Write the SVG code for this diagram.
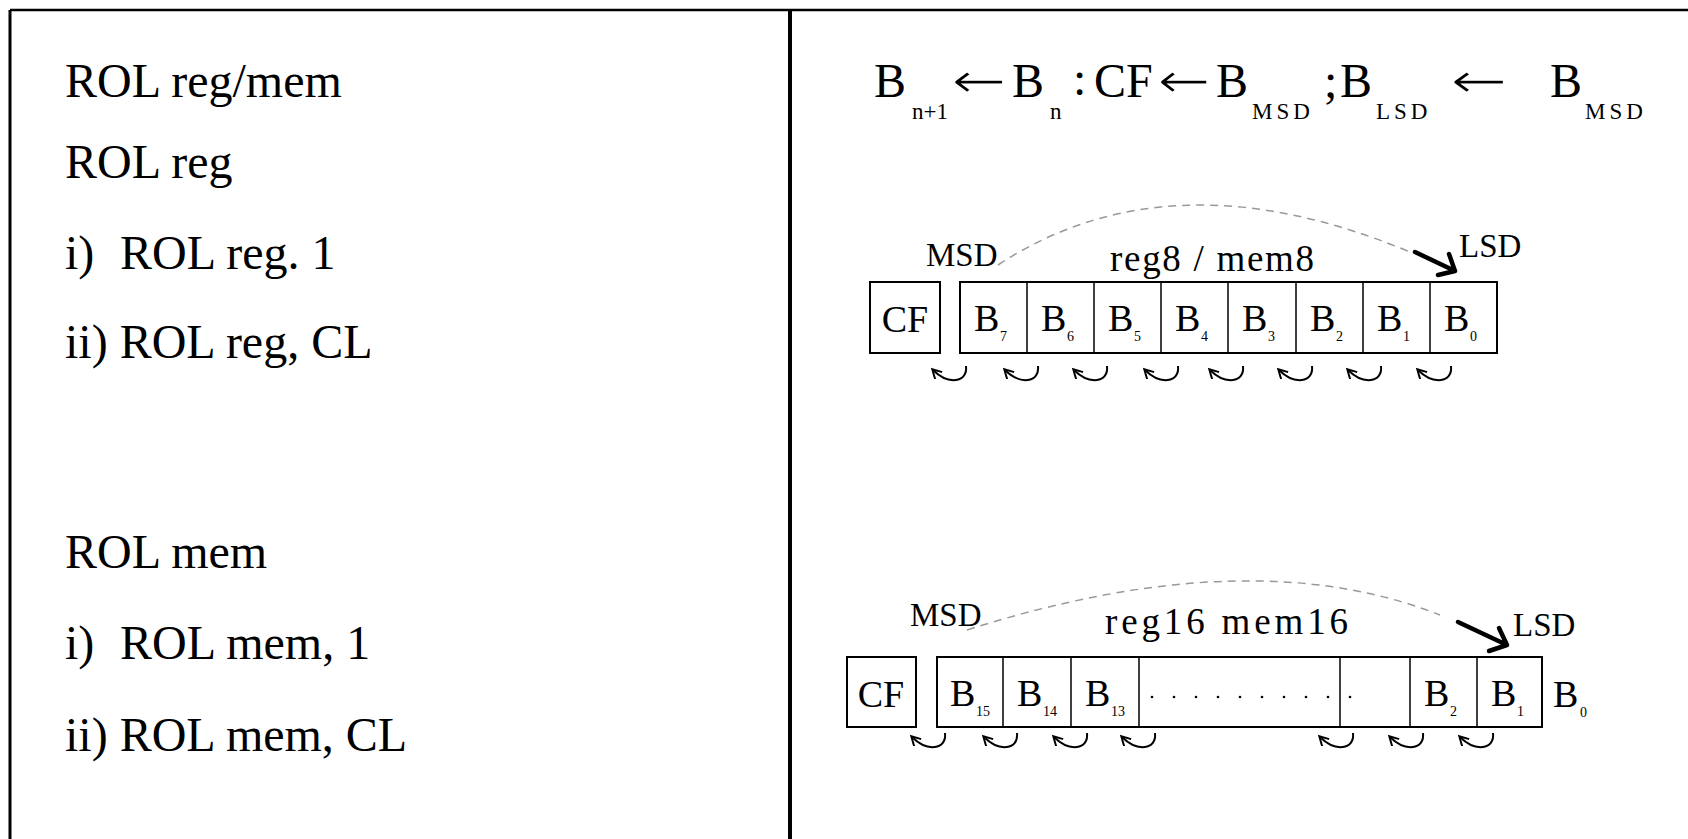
<svg xmlns="http://www.w3.org/2000/svg" width="1688" height="839" viewBox="0 0 1688 839">
<style>
.t{font-family:"Liberation Serif","DejaVu Serif",serif;fill:#000}
.big{font-size:48px}
.arr{font-family:"DejaVu Sans","Liberation Sans",sans-serif;font-size:50px;fill:#000;stroke:#fff;stroke-width:1.6}
.sub{font-size:23px}
.lbl{font-size:33px}
.lbl2{font-size:37px}
.cell{font-size:38px}
.cs{font-size:14px}
.box{fill:#fff;stroke:#000;stroke-width:2}
.frame{stroke:#000;fill:none}
.arc{fill:none;stroke:#999;stroke-width:1.5;stroke-dasharray:8 6}
.thick{fill:none;stroke:#000;stroke-width:4.5;stroke-linecap:round;stroke-linejoin:round}
.curl{fill:none;stroke:#000;stroke-width:2;marker-end:url(#ah)}
.dot{fill:#000}
</style>
<defs>
<marker id="ah" markerWidth="12" markerHeight="12" refX="8" refY="5" orient="auto" markerUnits="userSpaceOnUse">
<path d="M0,0 L9,5 L0,10" fill="none" stroke="#000" stroke-width="2"/>
</marker>
</defs>
<rect width="1688" height="839" fill="#fff"/>
<g id="frame">
<line class="frame" x1="10" y1="10" x2="1688" y2="10" stroke-width="2.5"/>
<line class="frame" x1="10" y1="10" x2="10" y2="839" stroke-width="3"/>
<line class="frame" x1="790" y1="10" x2="790" y2="839" stroke-width="4"/>
</g>
<g id="left-text" class="t big">
<text x="65" y="97">ROL reg/mem</text>
<text x="65" y="178">ROL reg</text>
<text x="65" y="269">i)<tspan x="120">ROL reg. 1</tspan></text>
<text x="65" y="358">ii) ROL reg, CL</text>
<text x="65" y="568">ROL mem</text>
<text x="65" y="659">i)<tspan x="120">ROL mem, 1</tspan></text>
<text x="65" y="751">ii) ROL mem, CL</text>
</g>
<g id="formula">
<text class="t"><tspan class="big" x="874" y="97">B</tspan><tspan class="sub" x="912" y="119">n+1</tspan><tspan class="arr" x="951" y="98" textLength="56" lengthAdjust="spacingAndGlyphs">←</tspan><tspan class="big" x="1012" y="97">B</tspan><tspan class="sub" x="1050" y="119">n</tspan><tspan class="big" x="1073" y="95">:</tspan><tspan class="big" x="1094" y="97">CF</tspan><tspan class="arr" x="1157" y="98" textLength="54" lengthAdjust="spacingAndGlyphs">←</tspan><tspan class="big" x="1216" y="97">B</tspan><tspan class="sub" x="1252" y="119" letter-spacing="4">MSD</tspan><tspan class="big" x="1324" y="97">;</tspan><tspan class="big" x="1340" y="97">B</tspan><tspan class="sub" x="1376" y="119" letter-spacing="4">LSD</tspan><tspan class="arr" x="1450" y="98" textLength="58" lengthAdjust="spacingAndGlyphs">←</tspan><tspan class="big" x="1550" y="97">B</tspan><tspan class="sub" x="1585" y="119" letter-spacing="4">MSD</tspan></text>
</g>
<g id="connectors">
<path class="arc" d="M998,265 Q1170,152 1410,252"/>
<path class="thick" d="M1415,252 L1455,271 M1438,275 L1455,271 L1449,254"/>
<path class="arc" d="M967,630 Q1250,540 1440,615"/>
<path class="thick" d="M1458,622 L1507,645 M1489,651 L1507,645 L1499,628"/>
<g id="curls-top">
<path class="curl" d="M966,366 C968,383 948,385 933,370"/>
<path class="curl" d="M1038,366 C1040,383 1020,385 1005,370"/>
<path class="curl" d="M1107,366 C1109,383 1089,385 1074,370"/>
<path class="curl" d="M1178,366 C1180,383 1160,385 1145,370"/>
<path class="curl" d="M1243,366 C1245,383 1225,385 1210,370"/>
<path class="curl" d="M1312,366 C1314,383 1294,385 1279,370"/>
<path class="curl" d="M1381,366 C1383,383 1363,385 1348,370"/>
<path class="curl" d="M1451,366 C1453,383 1433,385 1418,370"/>
</g>
<g id="curls-bottom">
<path class="curl" d="M945,733 C947,750 927,752 912,737"/>
<path class="curl" d="M1017,733 C1019,750 999,752 984,737"/>
<path class="curl" d="M1087,733 C1089,750 1069,752 1054,737"/>
<path class="curl" d="M1155,733 C1157,750 1137,752 1122,737"/>
<path class="curl" d="M1353,733 C1355,750 1335,752 1320,737"/>
<path class="curl" d="M1423,733 C1425,750 1405,752 1390,737"/>
<path class="curl" d="M1493,733 C1495,750 1475,752 1460,737"/>
</g>
</g>
<g id="top-labels" class="t">
<text class="lbl" x="926" y="266">MSD</text>
<text class="lbl2" x="1110" y="271" textLength="204" lengthAdjust="spacing">reg8 / mem8</text>
<text class="lbl" x="1459" y="257">LSD</text>
</g>
<g id="cf-top">
<rect class="box" x="870" y="282" width="70" height="71"/>
<text class="t cell" x="905" y="332" text-anchor="middle">CF</text>
</g>
<g id="reg8">
<rect class="box" x="960" y="282" width="537" height="71"/>
<g stroke="#000" stroke-width="1.5">
<line x1="1027" y1="282" x2="1027" y2="353"/>
<line x1="1094" y1="282" x2="1094" y2="353"/>
<line x1="1161" y1="282" x2="1161" y2="353"/>
<line x1="1228" y1="282" x2="1228" y2="353"/>
<line x1="1296" y1="282" x2="1296" y2="353"/>
<line x1="1363" y1="282" x2="1363" y2="353"/>
<line x1="1430" y1="282" x2="1430" y2="353"/>
</g>
<g class="t">
<text class="cell" x="974" y="331">B</text><text class="cs" x="1000" y="341">7</text>
<text class="cell" x="1041" y="331">B</text><text class="cs" x="1067" y="341">6</text>
<text class="cell" x="1108" y="331">B</text><text class="cs" x="1134" y="341">5</text>
<text class="cell" x="1175" y="331">B</text><text class="cs" x="1201" y="341">4</text>
<text class="cell" x="1242" y="331">B</text><text class="cs" x="1268" y="341">3</text>
<text class="cell" x="1310" y="331">B</text><text class="cs" x="1336" y="341">2</text>
<text class="cell" x="1377" y="331">B</text><text class="cs" x="1403" y="341">1</text>
<text class="cell" x="1444" y="331">B</text><text class="cs" x="1470" y="341">0</text>
</g>
</g>
<g id="bottom-labels" class="t">
<text class="lbl" x="910" y="626">MSD</text>
<text class="lbl2" x="1105" y="634" textLength="243" lengthAdjust="spacing">reg16 mem16</text>
<text class="lbl" x="1513" y="636">LSD</text>
</g>
<g id="cf-bottom">
<rect class="box" x="847" y="657" width="69" height="70"/>
<text class="t cell" x="881" y="707" text-anchor="middle">CF</text>
</g>
<g id="reg16">
<rect class="box" x="937" y="657" width="605" height="70"/>
<g stroke="#000" stroke-width="1.5">
<line x1="1003" y1="657" x2="1003" y2="727"/>
<line x1="1071" y1="657" x2="1071" y2="727"/>
<line x1="1139" y1="657" x2="1139" y2="727"/>
<line x1="1340" y1="657" x2="1340" y2="727"/>
<line x1="1410" y1="657" x2="1410" y2="727"/>
<line x1="1477" y1="657" x2="1477" y2="727"/>
</g>
<g class="t">
<text class="cell" x="950" y="706">B</text><text class="cs" x="976" y="716">15</text>
<text class="cell" x="1017" y="706">B</text><text class="cs" x="1043" y="716">14</text>
<text class="cell" x="1085" y="706">B</text><text class="cs" x="1111" y="716">13</text>
<text class="cell" x="1424" y="706">B</text><text class="cs" x="1450" y="716">2</text>
<text class="cell" x="1491" y="706">B</text><text class="cs" x="1517" y="716">1</text>
</g>
<g class="dot">
<circle cx="1152" cy="697" r="1.3"/><circle cx="1174" cy="697" r="1.3"/><circle cx="1196" cy="697" r="1.3"/>
<circle cx="1218" cy="697" r="1.3"/><circle cx="1240" cy="697" r="1.3"/><circle cx="1262" cy="697" r="1.3"/>
<circle cx="1284" cy="697" r="1.3"/><circle cx="1306" cy="697" r="1.3"/><circle cx="1328" cy="697" r="1.3"/>
<circle cx="1350" cy="697" r="1.3"/>
</g>
</g>
<g id="b0-outside" class="t">
<text class="cell" x="1553" y="707">B</text><text class="cs" x="1580" y="717">0</text>
</g>
</svg>
